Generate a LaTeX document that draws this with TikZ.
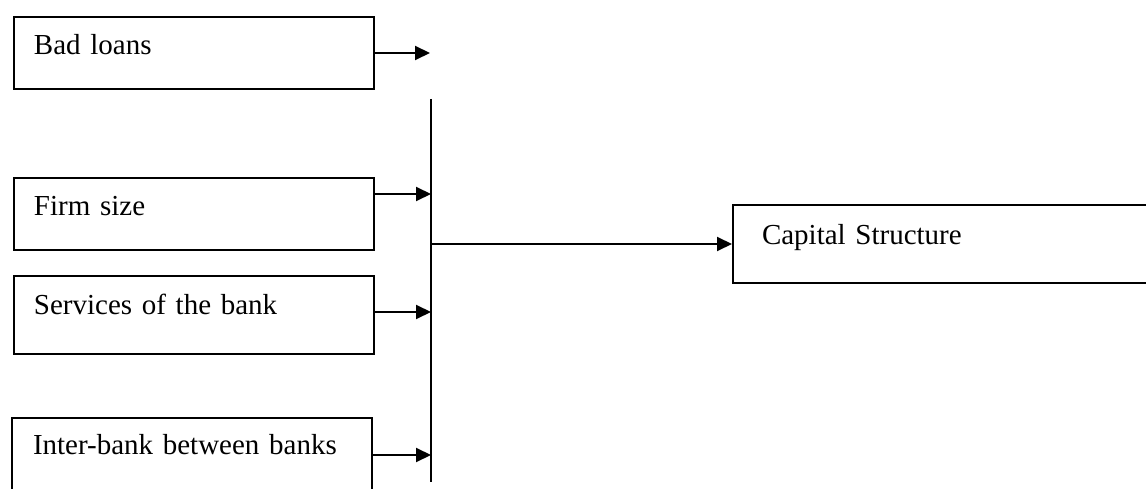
\documentclass[tikz,border=0pt]{standalone}
\usepackage{fontspec}
\setmainfont{Liberation Serif}
\usetikzlibrary{arrows.meta,calc}
\begin{document}
\begin{tikzpicture}[x=1pt,y=-1pt,
  box/.style={draw=black,line width=2pt,anchor=north west,inner ysep=0pt,
    align=left,font=\fontsize{29}{34}\selectfont},
  arr/.style={line width=2pt,-{Triangle[length=15pt,width=14pt]}},
  ln/.style={line width=2pt}]
\useasboundingbox (0,0) rectangle (1146,489);
\clip (0,0) rectangle (1146,489);
\fill[white] (0,0) rectangle (1146,489);
\node[box,inner xsep=20pt,text width=320pt,text height=38pt,text depth=34pt] (b1) at (13,16) {Bad loans};
\node[box,inner xsep=20pt,text width=320pt,text height=38pt,text depth=34pt] (b2) at (13,177) {Firm size};
\node[box,inner xsep=20pt,text width=320pt,text height=38pt,text depth=40pt] (b3) at (13,275) {Services of the bank};
\node[box,inner xsep=21pt,text width=318pt,text height=36pt,text depth=40pt] (b4) at (11,417) {Inter-bank between banks};
\node[box,inner xsep=29pt,text width=440pt,text height=39pt,text depth=39pt] (cap) at (732,204) {Capital Structure};
\coordinate (bartop) at (431,99);
\coordinate (barbot) at (431,482);
\coordinate (hub) at (431,244);
\coordinate (e1) at (430,53);
\draw[ln] (bartop) -- (barbot);
\draw[arr] (b1.east |- e1) -- (e1);
\draw[arr] ([yshift=-17pt]b2.north east) -- ([yshift=-17pt]b2.north east -| bartop);
\draw[arr] ([yshift=-37pt]b3.north east) -- ([yshift=-37pt]b3.north east -| bartop);
\draw[arr] ([yshift=-38pt]b4.north east) -- ([yshift=-38pt]b4.north east -| bartop);
\draw[arr] (hub) -- (hub -| cap.west);
\end{tikzpicture}
\end{document}
